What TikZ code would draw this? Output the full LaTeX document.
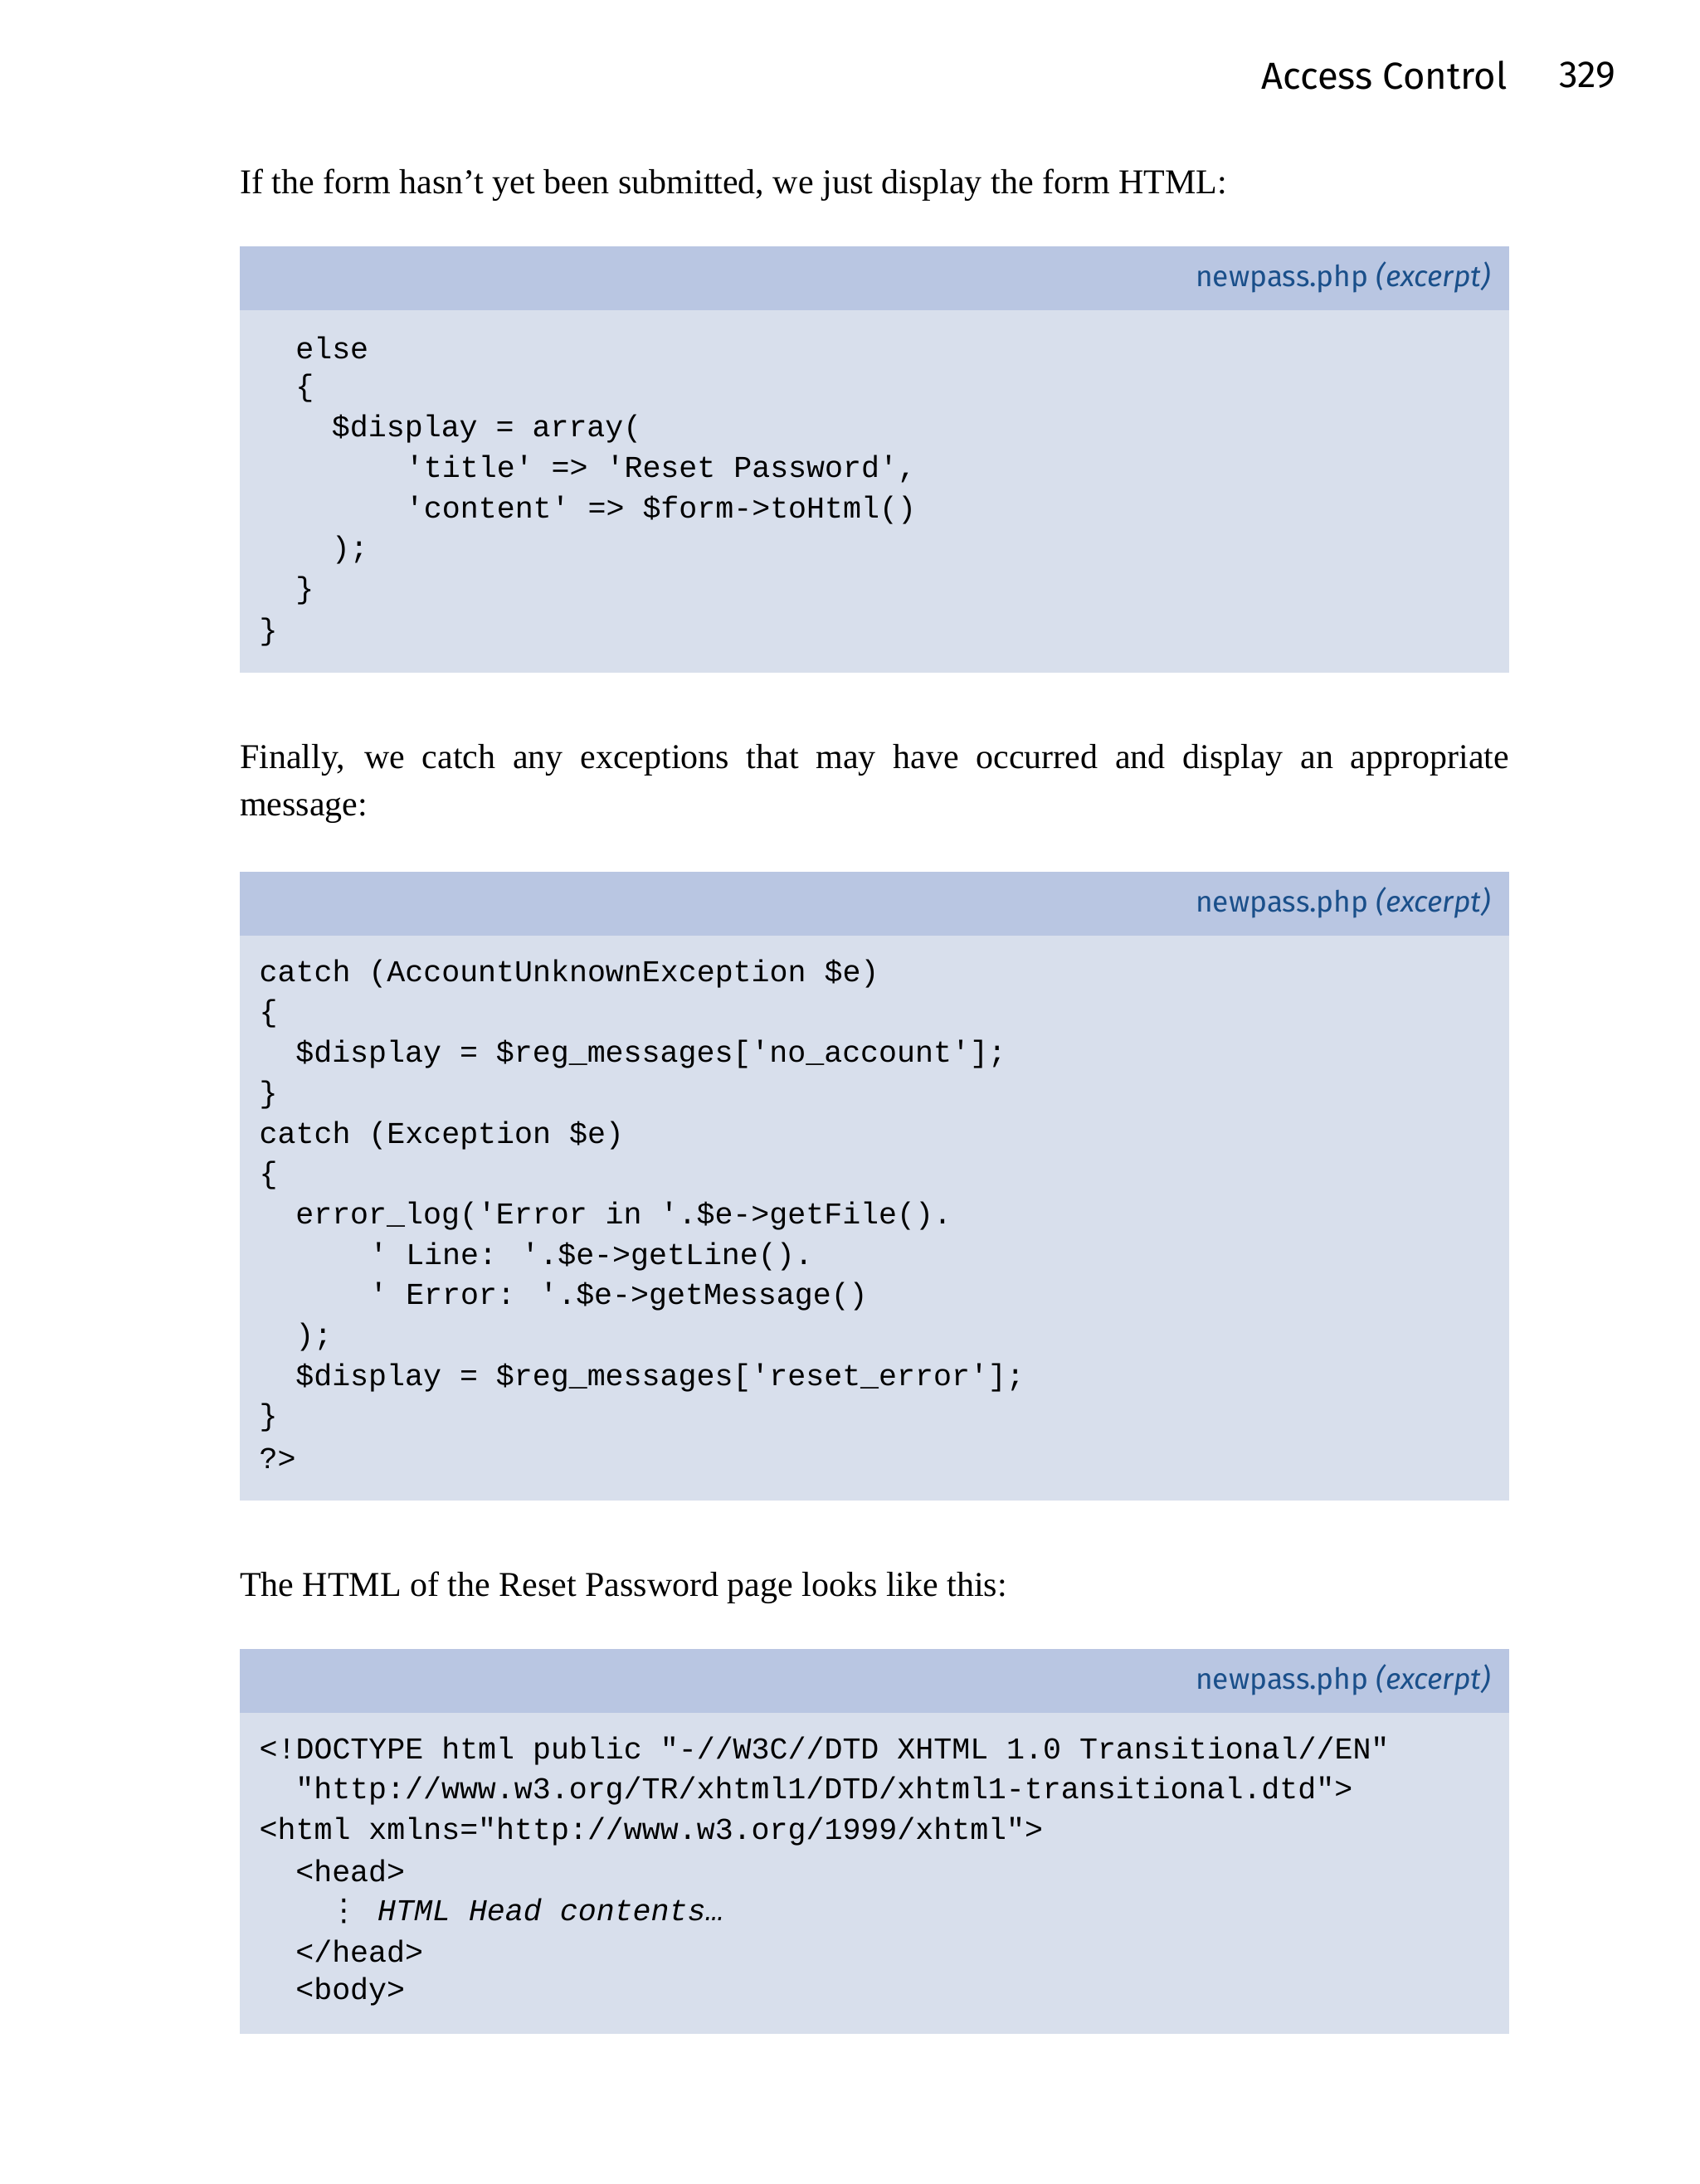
\documentclass[tikz,border=0pt]{standalone}
\usepackage{fontspec}
\setmainfont{Liberation Serif}
\newfontfamily\codefont{Liberation Mono}
\newfontfamily\headfont{Fira Sans}
\newfontfamily\symfont{DejaVu Sans}
\definecolor{hdr}{HTML}{B9C6E2}
\definecolor{bdy}{HTML}{D8DFEC}
\definecolor{ttl}{HTML}{1A4F8A}
\tikzset{
  x=1pt,y=-1pt,
  code/.style={anchor=west,inner sep=0,font=\codefont\fontsize{21.8}{24}\selectfont},
  body/.style={anchor=west,inner sep=0,font=\fontsize{25}{30}\selectfont},
  ptitle/.style={anchor=east,inner sep=0,text=ttl,font=\headfont\fontsize{21}{24}\selectfont},
  run/.style={inner sep=0,font=\headfont\fontsize{27}{30}\selectfont}
}
\newcommand\cl[3]{\node[code] at (#1,#2) {\detokenize{#3}};}
\begin{document}
\begin{tikzpicture}
\useasboundingbox (0,0) rectangle (1220,1568);
\fill[white] (0,0) rectangle (1220,1568);
\node[run,anchor=east] (rh) at (1082,54) {Access Control};
\node[run,anchor=east] (pg) at (1160,54) {329};
% paragraph 1
\node[body] (p1) at (172,133) {If the form hasn’t yet been submitted, we just display the form HTML:};
% box 1
\fill[bdy] (172,177) rectangle (1083,483);
\fill[hdr] (172,177) rectangle (1083,223);
\node[ptitle] (t1) at (1070,199) {newpass.php \textit{(excerpt)}};
\cl{212}{250}{else}
\node[code] at (212,279) {\{};
\cl{238}{308}{$display = array(}
\cl{291}{337}{'title' => 'Reset Password',}
\cl{291}{366}{'content' => $form->toHtml()}
\cl{238}{395}{);}
\node[code] at (212,424) {\}};
\node[code] at (186,454) {\}};
% paragraph 2
\node[body] (p2) at (172,546) {\makebox[911pt][s]{Finally, we catch any exceptions that may have occurred and display an appropriate}};
\node[body] (p2b) at (172,582) {message:};
% box 2
\fill[bdy] (172,626) rectangle (1083,1077);
\fill[hdr] (172,626) rectangle (1083,672);
\node[ptitle] (t2) at (1070,648) {newpass.php \textit{(excerpt)}};
\cl{186}{699}{catch (AccountUnknownException $e)}
\node[code] at (186,728) {\{};
\cl{212}{757}{$display = $reg_messages['no_account'];}
\node[code] at (186,786) {\}};
\cl{186}{815}{catch (Exception $e)}
\node[code] at (186,844) {\{};
\cl{212}{873}{error_log('Error in '.$e->getFile().}
\cl{265}{902}{' Line: '.$e->getLine().}
\cl{265}{931}{' Error: '.$e->getMessage()}
\cl{212}{960}{);}
\cl{212}{989}{$display = $reg_messages['reset_error'];}
\node[code] at (186,1018) {\}};
\cl{186}{1047}{?>}
% paragraph 3
\node[body] (p3) at (172,1140) {The HTML of the Reset Password page looks like this:};
% box 3
\fill[bdy] (172,1184) rectangle (1083,1460);
\fill[hdr] (172,1184) rectangle (1083,1230);
\node[ptitle] (t3) at (1070,1206) {newpass.php \textit{(excerpt)}};
\cl{186}{1257}{<!DOCTYPE html public "-//W3C//DTD XHTML 1.0 Transitional//EN"}
\cl{212}{1286}{"http://www.w3.org/TR/xhtml1/DTD/xhtml1-transitional.dtd">}
\cl{186}{1315}{<html xmlns="http://www.w3.org/1999/xhtml">}
\cl{212}{1343}{<head>}
\node[code] at (236,1372) {{\symfont ⋮} \itshape HTML Head contents…};
\cl{212}{1401}{</head>}
\cl{212}{1430}{<body>}
\end{tikzpicture}
\end{document}
